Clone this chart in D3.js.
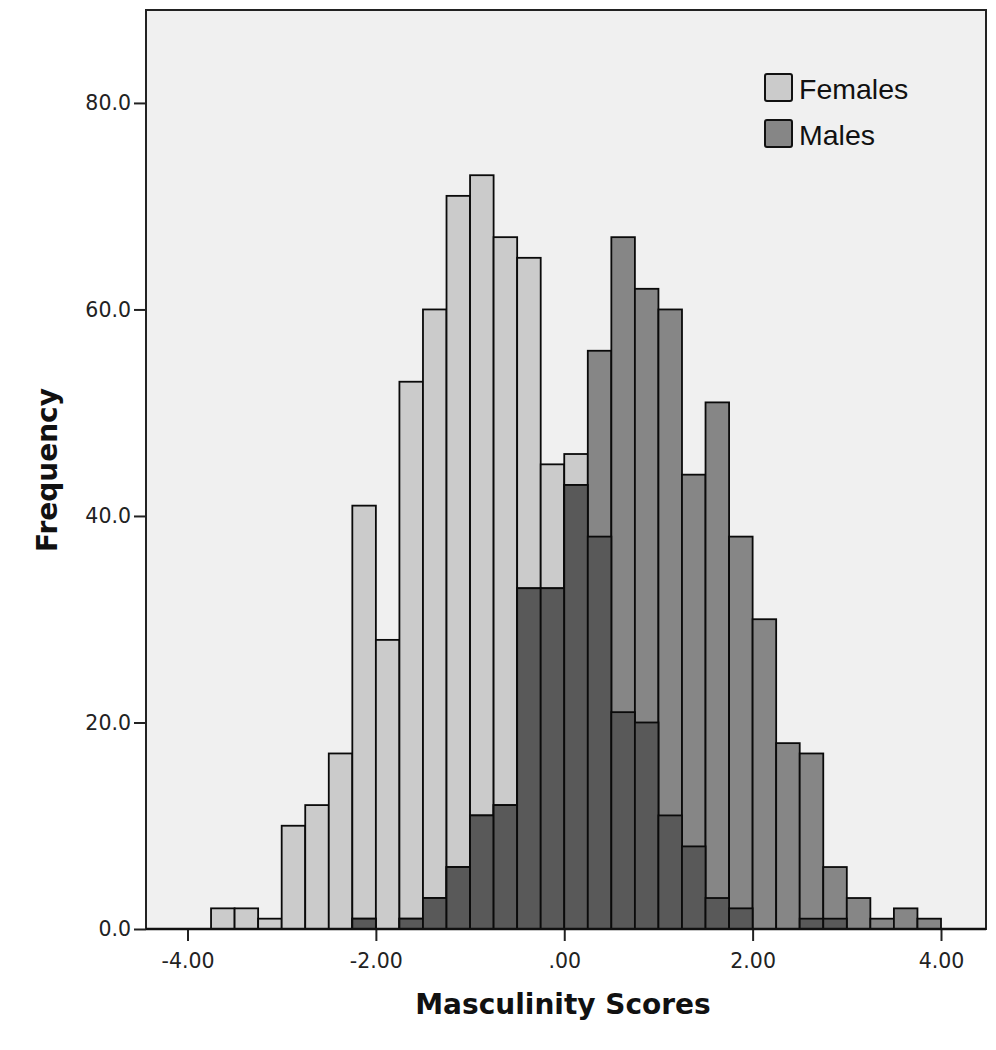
<!DOCTYPE html>
<html>
<head>
<meta charset="utf-8">
<script src="https://d3js.org/d3.v7.min.js"></script>
<style>
  body { margin: 0; background: #fff; }
  svg { display: block; }
  .tick text { font-family: "DejaVu Sans", sans-serif; font-size: 20.5px; fill: #222; }
  .axis-title { font-family: "DejaVu Sans", sans-serif; font-weight: bold; font-size: 28px; fill: #111; }
  .legend text { font-family: "Liberation Sans", Arial, sans-serif; font-size: 28.5px; fill: #111; }
</style>
</head>
<body>
<svg id="chart" width="996" height="1050"></svg>
<script>
// bin starts (width 0.25) from -3.75 to 3.75
var binWidth = 0.25;
var binStarts = [-3.75, -3.5, -3.25, -3.0, -2.75, -2.5, -2.25, -2.0, -1.75, -1.5,
                 -1.25, -1.0, -0.75, -0.5, -0.25, 0.0, 0.25, 0.5, 0.75, 1.0,
                 1.25, 1.5, 1.75, 2.0, 2.25, 2.5, 2.75, 3.0, 3.25, 3.5, 3.75];
var females = [2, 2, 1, 10, 12, 17, 41, 28, 53, 60,
               71, 73, 67, 65, 45, 46, 38, 21, 20, 11,
               8, 3, 2, 0, 0, 1, 1, 0, 0, 0, 0];
var males   = [0, 0, 0, 0, 0, 0, 1, 0, 1, 3,
               6, 11, 12, 33, 33, 43, 56, 67, 62, 60,
               44, 51, 38, 30, 18, 17, 6, 3, 1, 2, 1];
var xTicks = [-4, -2, 0, 2, 4];
var yTicks = [0, 20, 40, 60, 80];
var seriesNames = ["Females", "Males"];

var colors = { Females: "#cbcbcb", Males: "#868686", overlap: "#595959" };

var svg = d3.select("#chart");
var frame = { left: 146, top: 10, right: 986, bottom: 929 };

var x = d3.scaleLinear().domain([-4, 4]).range([187.5, 941]);
var y = d3.scaleLinear().domain([0, 89]).range([frame.bottom, frame.top]);

// plot background
svg.append("rect")
    .attr("x", frame.left).attr("y", frame.top)
    .attr("width", frame.right - frame.left)
    .attr("height", frame.bottom - frame.top)
    .attr("fill", "#f0f0f0");

var bins = binStarts.map(function(s, i) {
    return { x0: s, x1: s + binWidth, f: females[i], m: males[i] };
});

var bars = svg.append("g");

function drawBars(cls, fill, val) {
    bars.selectAll("rect." + cls)
        .data(bins.filter(function(d) { return val(d) > 0; }))
        .enter().append("rect")
        .attr("class", cls)
        .attr("x", function(d) { return x(d.x0); })
        .attr("width", function(d) { return x(d.x1) - x(d.x0); })
        .attr("y", function(d) { return y(val(d)); })
        .attr("height", function(d) { return y(0) - y(val(d)); })
        .attr("fill", fill)
        .attr("stroke", "#0a0a0a")
        .attr("stroke-width", 1.8);
}
drawBars("fem", colors.Females, function(d) { return d.f; });
drawBars("mal", colors.Males, function(d) { return d.m; });
drawBars("ovl", colors.overlap, function(d) { return Math.min(d.f, d.m); });

// axes
var xAxis = d3.axisBottom(x).tickValues(xTicks)
    .tickSizeInner(12).tickSizeOuter(0).tickPadding(12);
var gx = svg.append("g").attr("transform", "translate(0," + frame.bottom + ")").call(xAxis);
gx.select(".domain").remove();
gx.selectAll(".tick line").attr("stroke", "#222").attr("stroke-width", 2);
gx.selectAll(".tick text").text(function(d) {
    var s = d === 0 ? ".00" : d3.format(".2f")(Math.abs(d));
    return d < 0 ? "-" + s : s;
});

var yAxis = d3.axisLeft(y).tickValues(yTicks)
    .tickFormat(d3.format(".1f"))
    .tickSizeInner(12).tickSizeOuter(0).tickPadding(3);
var gy = svg.append("g").attr("transform", "translate(" + frame.left + ",0)").call(yAxis);
gy.select(".domain").remove();
gy.selectAll(".tick line").attr("stroke", "#222").attr("stroke-width", 2);

// frame drawn on top of bars
svg.append("rect")
    .attr("x", frame.left).attr("y", frame.top)
    .attr("width", frame.right - frame.left)
    .attr("height", frame.bottom - frame.top)
    .attr("fill", "none")
    .attr("stroke", "#222").attr("stroke-width", 2);
svg.append("line")
    .attr("x1", frame.left).attr("x2", frame.right)
    .attr("y1", frame.bottom).attr("y2", frame.bottom)
    .attr("stroke", "#111").attr("stroke-width", 2.5);

// axis titles
svg.append("text").attr("class", "axis-title")
    .attr("x", 563).attr("y", 1014)
    .attr("text-anchor", "middle")
    .text("Masculinity Scores");
svg.append("text").attr("class", "axis-title")
    .attr("transform", "translate(57,470) rotate(-90)")
    .attr("text-anchor", "middle")
    .text("Frequency");

// legend
var legend = svg.append("g").attr("class", "legend");
seriesNames.forEach(function(name, i) {
    var gy0 = 74 + i * 46;
    legend.append("rect")
        .attr("x", 765).attr("y", gy0)
        .attr("width", 27).attr("height", 27)
        .attr("rx", 2)
        .attr("fill", colors[name])
        .attr("stroke", "#111").attr("stroke-width", 2);
    legend.append("text")
        .attr("x", 799).attr("y", gy0 + 25)
        .text(name);
});
</script>
</body>
</html>
